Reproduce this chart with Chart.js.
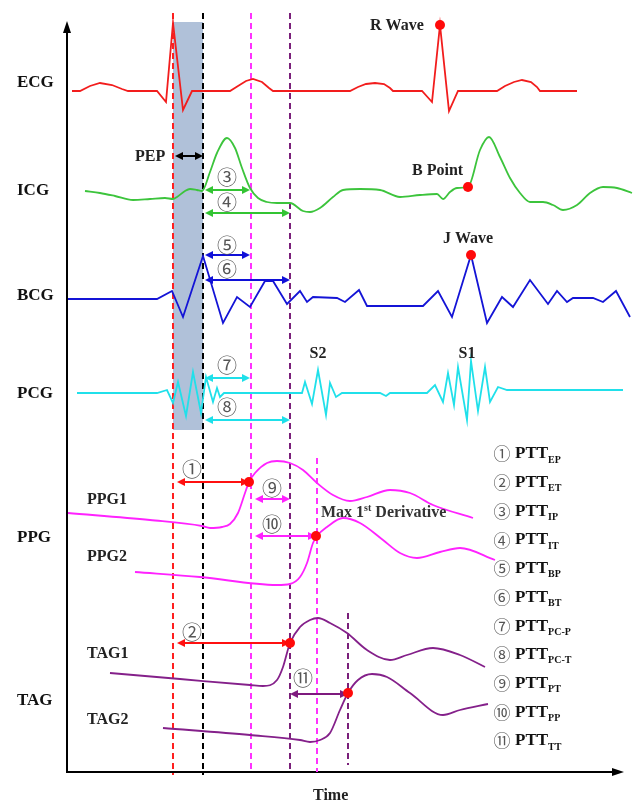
<!DOCTYPE html>
<html><head><meta charset="utf-8">
<script src="https://cdn.jsdelivr.net/npm/chart.js@4/dist/chart.umd.min.js"></script>
<style>html,body{margin:0;padding:0;background:#fff;}#wrap{width:638px;height:803px;position:relative;}</style>
</head><body><div id="wrap"><canvas id="c" width="638" height="803"></canvas></div>
<script>
// ---- waveform data (time, amplitude on the drawing scale) ----
const ecgT = [72,80,90,100,112,122,128,157,166,173,183,192,230,238,246,253,262,269,273,350,358,366,375,384,390,393,422,432,440,449,458,497,505,514,522,531,537,540,577];
const ecgV = [91,91,86,83,85,89,91,91,102,23,110,91,91,86,81,79,82,88,91,91,87,84,83,84,88,91,91,102,25,111,91,91,86,82,80,82,87,91,91];
const icgT = [85,100,115,133,150,165,173,177,185,190,197,202,210,217,227,235,242,250,258,267,277,290,303,310,320,333,343,360,380,400,420,437,443,450,457,468,480,489,500,510,520,530,543,553,563,577,590,603,617,632];
const icgV = [191,193,196,200,199,198,199,197,191,189,190,191,172,153,138,148,168,188,198,202,203,203,211,212,208,197,190,189,190,197,195,194,199,192,188,187,150,137,157,178,193,202,202,205,210,205,193,187,188,193];
const bcgT = [68,157,172,183,203,223,237,250,265,273,287,300,307,313,337,345,359,367,423,438,452,471,487,502,513,530,548,557,567,573,593,603,616,630];
const bcgV = [299,299,291,317,256,323,297,307,281,281,304,291,302,297,298,302,290,306,306,291,317,255,323,297,307,280,304,291,302,298,298,302,291,317];
const pcgT = [77,157,167,173,178,186,193,201,206,213,217,220,224,302,305,312,318,326,330,336,342,380,386,390,427,435,443,448,454,458,467,471,478,485,490,498,507,623];
const pcgV = [393,393,390,403,382,416,372,413,377,402,388,397,393,393,382,404,370,415,383,397,393,393,396,393,393,385,402,373,405,367,420,361,411,367,402,387,390,390];
const ppg1T = [68,150,202,210,222,230,238,245,249,255,267,277,290,303,317,333,350,367,390,410,433,473];
const ppg1V = [513,520,526,528,527,524,513,493,482,473,463,461,463,470,483,495,501,497,490,493,505,518];
const ppg2T = [135,200,277,290,300,307,313,317,327,343,360,383,400,417,440,460,495];
const ppg2V = [572,577,585,584,577,563,543,536,527,518,523,540,553,558,552,548,560];
const tag1T = [110,180,250,263,277,283,290,300,310,318,330,347,367,390,407,433,460,485];
const tag1V = [673,679,685,686,680,667,643,627,620,618,623,633,650,660,655,648,655,667];
const tag2T = [163,250,300,310,320,330,340,348,358,372,387,410,443,460,488];
const tag2V = [728,735,740,742,740,733,710,693,680,674,677,693,715,710,704];

// ---- marker instants ----
const markerT   = [173,203,251,290,317,348];
const markerTop = [13,13,13,13,458,613];
const markerBot = [775,775,772,772,772,765];
// feature points
const dotT = [440,468,471,249,316,290,348];
const dotV = [25,187,255,482,536,643,693];
// intervals: start, end, level
const spanStart = [175,205,205,205,205,205,205,177,255,255,177,290];
const spanEnd   = [203,250,290,250,290,250,290,249,290,316,290,348];
const spanLevel = [156,190,213,255,280,378,420,482,499,536,643,694];
const spanTag   = ['', '③','④','⑤','⑥','⑦','⑧','①','⑨','⑩','②','⑪'];
const spanTagT  = [0,227,227,227,227,227,227,192,272,272,192,303];
const spanTagV  = [0,177,202,245,269,365,407,469,488,524,632,678];
const legendNum = ['①','②','③','④','⑤','⑥','⑦','⑧','⑨','⑩','⑪'];
const legendSub = ['EP','ET','IP','IT','BP','BT','PC-P','PC-T','PT','PP','TT'];
const pepBand = [173,203,22,430];

const spanColor = ['#000','#33c433','#33c433','#1010d8','#1010d8','#1ee0ea','#1ee0ea','#ff1010','#ff22ff','#ff22ff','#ff1010','#7e1a7e'];
const markerColor = ['#ff2020','#000000','#ff33ff','#7a1f7a','#ff33ff','#7a1f7a'];

const pair = (xs, ys) => xs.map((x,i)=>({x:x, y:ys[i]}));
const SERIF = '"Liberation Serif","Times New Roman",serif';
const CIRC = '"Noto Sans CJK SC","DejaVu Sans",sans-serif';

function curve(label, t, v, color, smooth){
  return {label, data: pair(t,v), borderColor: color, borderWidth: 1.8, pointRadius: 0,
    showLine: true, fill: false, tension: smooth ? 0.4 : 0, cubicInterpolationMode: smooth ? 'monotone' : 'default', order: 1};
}
const datasets = [
  curve('ECG', ecgT, ecgV, '#f21d1d', false),
  curve('ICG', icgT, icgV, '#3cc43c', true),
  curve('BCG', bcgT, bcgV, '#1414d6', false),
  curve('PCG', pcgT, pcgV, '#20e0ea', false),
  curve('PPG1', ppg1T, ppg1V, '#ff22ff', true),
  curve('PPG2', ppg2T, ppg2V, '#ff22ff', true),
  curve('TAG1', tag1T, tag1V, '#84208a', true),
  curve('TAG2', tag2T, tag2V, '#84208a', true),
];
markerT.forEach((t,i)=>{
  datasets.push({label:'m'+i, data:[{x:t,y:markerTop[i]},{x:t,y:markerBot[i]}], borderColor: markerColor[i],
    borderWidth: 2, borderDash:[6,4], pointRadius:0, showLine:true, order:2});
});

function arrowHead(ctx, x, y, dir, color){
  ctx.fillStyle = color; ctx.beginPath();
  ctx.moveTo(x, y); ctx.lineTo(x - dir*8, y - 4); ctx.lineTo(x - dir*8, y + 4); ctx.closePath(); ctx.fill();
}

const drawPlugin = {
  id: 'draw',
  beforeDatasetsDraw(chart){
    const {ctx, scales:{x, y}} = chart;
    ctx.save();
    ctx.fillStyle = 'rgba(150,172,204,0.75)';
    const x0 = x.getPixelForValue(pepBand[0]), x1 = x.getPixelForValue(pepBand[1]);
    const y0 = y.getPixelForValue(pepBand[2]), y1 = y.getPixelForValue(pepBand[3]);
    ctx.fillRect(x0, y0, x1-x0, y1-y0);
    // axes
    const ax = x.getPixelForValue(67), ay = y.getPixelForValue(772);
    ctx.strokeStyle = '#000'; ctx.lineWidth = 2;
    ctx.beginPath(); ctx.moveTo(ax, ay); ctx.lineTo(ax, y.getPixelForValue(30)); ctx.stroke();
    ctx.beginPath(); ctx.moveTo(ax-1, ay); ctx.lineTo(x.getPixelForValue(616), ay); ctx.stroke();
    ctx.fillStyle='#000';
    ctx.beginPath(); ctx.moveTo(ax, y.getPixelForValue(21)); ctx.lineTo(ax-4, y.getPixelForValue(33)); ctx.lineTo(ax+4, y.getPixelForValue(33)); ctx.closePath(); ctx.fill();
    ctx.beginPath(); ctx.moveTo(x.getPixelForValue(624), ay); ctx.lineTo(x.getPixelForValue(612), ay-4); ctx.lineTo(x.getPixelForValue(612), ay+4); ctx.closePath(); ctx.fill();
    ctx.restore();
  },
  afterDatasetsDraw(chart){
    const {ctx, scales:{x, y}} = chart;
    ctx.save();
    // interval arrows
    spanStart.forEach((s,i)=>{
      const xa = x.getPixelForValue(s), xb = x.getPixelForValue(spanEnd[i]), yy = y.getPixelForValue(spanLevel[i]);
      ctx.strokeStyle = spanColor[i]; ctx.lineWidth = 2;
      ctx.beginPath(); ctx.moveTo(xa+4, yy); ctx.lineTo(xb-4, yy); ctx.stroke();
      arrowHead(ctx, xa, yy, -1, spanColor[i]);
      arrowHead(ctx, xb, yy, 1, spanColor[i]);
      if (spanTag[i]) {
        ctx.fillStyle = '#555'; ctx.font = '20px ' + CIRC; ctx.textAlign='center'; ctx.textBaseline='middle';
        ctx.fillText(spanTag[i], x.getPixelForValue(spanTagT[i]), y.getPixelForValue(spanTagV[i]));
      }
    });
    // dots
    dotT.forEach((t,i)=>{
      ctx.fillStyle = '#ff0a0a'; ctx.beginPath();
      ctx.arc(x.getPixelForValue(t), y.getPixelForValue(dotV[i]), 5, 0, Math.PI*2); ctx.fill();
    });
    // texts
    const txt = (s, px, py, size, align, color) => {
      ctx.font = 'bold ' + size + 'px ' + SERIF; ctx.fillStyle = color || '#111';
      ctx.textAlign = align || 'left'; ctx.textBaseline = 'middle'; ctx.fillText(s, px, py);
    };
    txt('ECG', 17, 83, 17); txt('ICG', 17, 191, 17); txt('BCG', 17, 296, 17);
    txt('PCG', 17, 394, 17); txt('PPG', 17, 538, 17); txt('TAG', 17, 701, 17);
    txt('PPG1', 87, 500, 16, 'left', '#222'); txt('PPG2', 87, 557, 16, 'left', '#222');
    txt('TAG1', 87, 654, 16, 'left', '#222'); txt('TAG2', 87, 720, 16, 'left', '#222');
    txt('PEP', 135, 157, 16, 'left', '#222');
    txt('R Wave', 370, 26, 16, 'left', '#222');
    txt('B Point', 412, 171, 16, 'left', '#222');
    txt('J Wave', 443, 239, 16, 'left', '#222');
    txt('S2', 318, 354, 16, 'center', '#222'); txt('S1', 467, 354, 16, 'center', '#222');
    txt('Time', 313, 796, 16, 'left', '#222');
    // Max 1st Derivative
    ctx.font = 'bold 16px ' + SERIF; ctx.fillStyle = '#333'; ctx.textAlign='left'; ctx.textBaseline='middle';
    let px = 321; const py = 513;
    ctx.fillText('Max 1', px, py); px += ctx.measureText('Max 1').width;
    ctx.font = 'bold 10px ' + SERIF; ctx.fillText('st', px, py-5); px += ctx.measureText('st').width;
    ctx.font = 'bold 16px ' + SERIF; ctx.fillText(' Derivative', px, py);
    // legend
    legendNum.forEach((n,i)=>{
      const ly = 454 + i*28.7;
      ctx.font = '17px ' + CIRC; ctx.fillStyle = '#555'; ctx.textAlign='center'; ctx.textBaseline='middle';
      ctx.fillText(n, 502, ly);
      ctx.textAlign='left';
      ctx.font = 'bold 17px ' + SERIF; ctx.fillStyle = '#111';
      ctx.fillText('PTT', 515, ly);
      const w = ctx.measureText('PTT').width;
      ctx.font = 'bold 10px ' + SERIF;
      ctx.fillText(legendSub[i], 515 + w, ly + 6);
    });
    ctx.restore();
  }
};

new Chart(document.getElementById('c'), {
  type: 'scatter',
  data: { datasets },
  options: {
    responsive: false, animation: false, events: [],
    layout: { padding: 0 },
    plugins: { legend: { display: false }, tooltip: { enabled: false } },
    scales: {
      x: { type: 'linear', min: 0, max: 638, display: false },
      y: { type: 'linear', min: 0, max: 803, reverse: true, display: false }
    }
  },
  plugins: [drawPlugin]
});
</script></body></html>
